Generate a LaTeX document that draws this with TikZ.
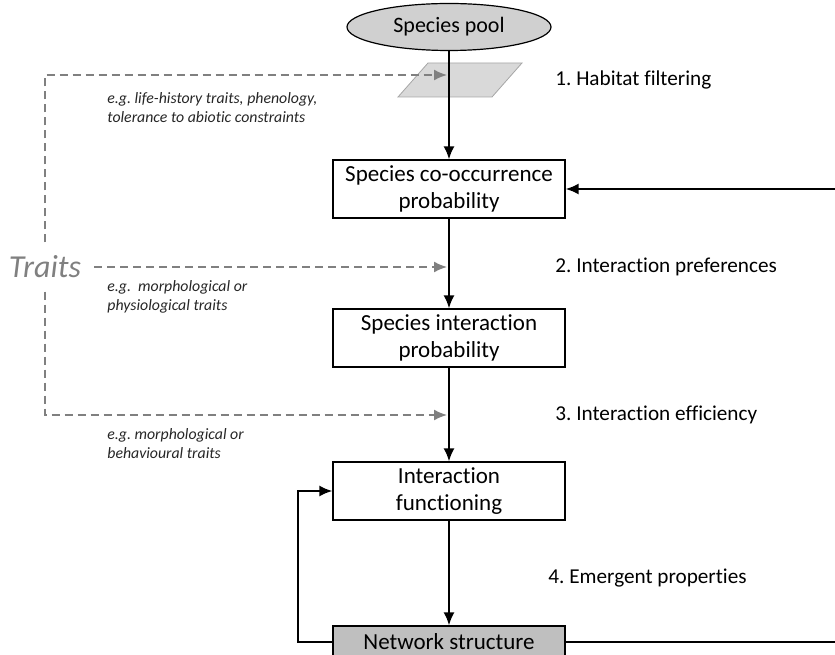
\documentclass[tikz,border=0pt]{standalone}
\usepackage{fontspec}
\setmainfont{Carlito}[Ligatures=NoCommon]
\usetikzlibrary{arrows.meta,shapes.geometric}
\definecolor{poolgray}{HTML}{D0D0D0}
\definecolor{netgray}{HTML}{BFBFBF}
\definecolor{sievegray}{HTML}{D9D9D9}
\definecolor{sieveedge}{HTML}{A6A6A6}
\definecolor{traitgray}{HTML}{808080}
\definecolor{notegray}{HTML}{262626}
\frenchspacing

\begin{document}
\begin{tikzpicture}[x=0.5pt,y=0.5pt,
  box/.style={draw,line width=0.6pt,fill=white,minimum width=116pt,minimum height=29pt,inner sep=0pt,align=center,font=\fontsize{11.5}{13.8}\selectfont},
  flow/.style={line width=1pt,-{Latex[length=6.5pt,width=5.5pt]}},
  trait/.style={draw=traitgray,line width=0.8pt,dash pattern=on 4pt off 2.5pt,-{Latex[length=6.5pt,width=5.5pt]}},
  steplabel/.style={anchor=west,inner sep=0pt,font=\fontsize{10.6}{13}\selectfont},
  note/.style={anchor=west,inner sep=0pt,align=left,text=notegray,font=\itshape\fontsize{7.9}{9.5}\selectfont}]

\useasboundingbox (0,0) rectangle (835,654);
\clip (0,0) rectangle (835,654);

%Filter
\filldraw[fill=sievegray,draw=sieveedge,line width=0.4pt] (398,557) -- (492,557) -- (522,591) -- (428,591) -- cycle;

%Main chain
\node[ellipse,draw,line width=0.6pt,fill=poolgray,minimum width=102pt,minimum height=23.5pt,inner sep=0pt,font=\fontsize{11}{13}\selectfont] (pool) at (449,627) {Species pool};
\node[box] (cooc) at (449,465) {Species co-occurrence\\probability};
\node[box] (inter) at (449,316) {Species interaction\\probability};
\node[box] (func) at (449,163) {Interaction\\functioning};
\node[box,fill=netgray,minimum height=16pt] (net) at (449,12) {Network structure};

\draw[flow] (pool.south) -- (cooc.north);
\draw[flow] (cooc.south) -- (inter.north);
\draw[flow] (inter.south) -- (func.north);
\draw[flow] (func.south) -- (net.north);

%Feedbacks
\draw[flow] (net.west) -- ++(-34,0) |- (func.west);
\draw[flow] (net.east) -- ++(300,0) |- (cooc.east);

%Steps
\node[steplabel] (hablab) at (555,574) {1. Habitat filtering};
\node[steplabel] (preflab) at (555,387) {2. Interaction preferences};
\node[steplabel] (efflab) at (555,239) {3. Interaction efficiency};
\node[steplabel] (emlab) at (548,76) {4. Emergent properties};

%Traits
\coordinate (habtip) at (447,579);
\coordinate (preftip) at (447,387);
\coordinate (efftip) at (447,239);
\node[text=traitgray,inner sep=6.5pt,font=\itshape\fontsize{16}{19}\selectfont] (traits) at (45,387) {Traits};

\draw[trait] (traits.north) |- (habtip);
\draw[trait] (traits.east) -- (preftip);
\draw[trait] (traits.south) |- (efftip);

\node[note] (habnote) at (107,546) {e.g. life-history traits, phenology,\\tolerance to abiotic constraints};
\node[note] (prefnote) at (107,357) {e.g.\ \ morphological or\\physiological traits};
\node[note] (effnote) at (107,210) {e.g. morphological or\\behavioural traits};

\end{tikzpicture}
\end{document}
